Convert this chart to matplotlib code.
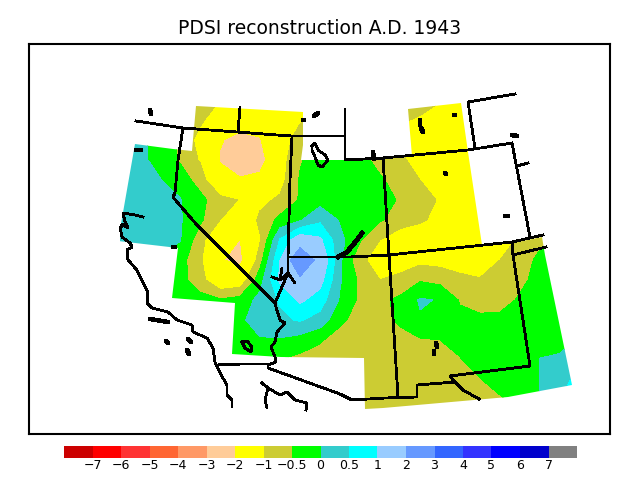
#import modules
import numpy as np
import matplotlib
matplotlib.use('Agg')
import matplotlib.pyplot as plt
from matplotlib.patches import Polygon

title = 'PDSI reconstruction A.D. 1943'

#contour levels and colors
levels = [-7, -6, -5, -4, -3, -2, -1, -0.5, 0, 0.5, 1, 2, 3, 4, 5, 6, 7]
level_labels = ['\u22127', '\u22126', '\u22125', '\u22124', '\u22123', '\u22122', '\u22121', '\u22120.5',
                '0', '0.5', '1', '2', '3', '4', '5', '6', '7']
colors = ['#cc0000', '#ff0000', '#ff3333', '#ff6633', '#ff9966', '#ffcc99', '#ffff00', '#cccc33', '#00ff00',
          '#33cccc', '#00ffff', '#99ccff', '#6699ff', '#3366ff', '#3333ff', '#0000ff', '#0000cc', '#808080']

#PDSI, map units are picture pixels
grid_x = [120, 140, 160, 180, 200, 220, 240, 260, 280, 300, 320, 340, 360, 380, 400, 420, 440, 460, 480, 500, 520, 540, 560, 580]
grid_y = [100, 120, 140, 160, 180, 200, 220, 240, 260, 280, 300, 320, 340, 360, 380, 400, 420]
pdsi_100 = [0.3, 0.2, -0.2, -0.6, -0.85, -1.0, -1.5, -1.6, -1.6, -1.3, -1.2, -1.2, -1.2, -1.1, -0.7, -0.65, -0.95, -1.4, -1.5, -1.5, -1.5, -1.5, -1.5, -1.5]
pdsi_120 = [0.3, 0.2, -0.2, -0.65, -0.9, -1.35, -1.7, -1.7, -1.5, -1.05, -0.8, -0.9, -1.0, -1.0, -0.9, -1.1, -1.4, -1.5, -1.5, -1.5, -1.5, -1.5, -1.5, -1.5]
pdsi_140 = [0.3, 0.1, -0.2, -0.6, -1.2, -1.95, -2.2, -2.05, -1.25, -0.8, -0.4, -0.3, -0.5, -0.9, -1.2, -1.5, -1.5, -1.5, -1.5, -1.5, -1.5, -1.5, -1.5, -1.5]
pdsi_160 = [0.3, 0.1, -0.15, -0.55, -1.05, -2.05, -2.6, -2.3, -1.25, -0.55, -0.25, -0.2, -0.3, -0.7, -0.85, -1.3, -1.5, -1.5, -1.5, -1.5, -1.5, -1.5, -1.5, -1.5]
pdsi_180 = [0.3, 0.2, 0.02, -0.25, -0.7, -1.7, -1.9, -1.8, -1.2, -0.45, -0.2, -0.15, -0.2, -0.42, -0.75, -1.0, -1.4, -1.5, -1.5, -1.5, -1.5, -1.5, -1.5, -1.5]
pdsi_200 = [0.3, 0.3, 0.2, 0.03, -0.35, -0.8, -1.03, -1.12, -0.92, -0.45, -0.2, -0.15, -0.2, -0.3, -0.55, -0.8, -1.05, -1.5, -1.5, -1.5, -1.5, -1.5, -1.5, -1.5]
pdsi_220 = [0.3, 0.3, 0.2, 0.05, -0.4, -1.0, -1.5, -0.9, -0.35, -0.05, 0.4, -0.05, -0.25, -0.45, -0.7, -0.9, -1.2, -1.5, -1.5, -1.5, -1.5, -1.5, -1.5, -1.5]
pdsi_240 = [0.3, 0.3, 0.2, 0.03, -0.8, -1.6, -2.02, -1.05, 0.55, 1.4, 1.1, 0.15, -0.45, -1.0, -1.4, -1.5, -1.5, -1.5, -1.5, -1.3, -0.9, -0.6, -0.4, -0.3]
pdsi_260 = [0.2, 0.1, -0.1, -0.3, -0.9, -1.95, -2.2, -0.7, 1.0, 2.95, 1.6, 0.1, -0.9, -1.2, -1.3, -1.15, -1.2, -1.3, -1.4, -1.0, -0.7, -0.4, -0.3, -0.3]
pdsi_280 = [0.1, -0.1, -0.2, -0.3, -0.8, -1.5, -1.4, -0.2, 1.1, 1.8, 1.2, 0.05, -0.6, -1.0, -0.85, -0.55, -0.65, -0.85, -0.95, -0.75, -0.6, -0.35, -0.3, -0.3]
pdsi_300 = [0.0, -0.1, -0.2, -0.25, -0.3, -0.45, -0.3, 0.15, 0.55, 1.1, 0.75, -0.05, -0.6, -0.6, -0.4, 0.05, -0.03, -0.55, -0.7, -0.65, -0.45, -0.25, -0.2, -0.2]
pdsi_320 = [0.0, -0.1, -0.2, -0.25, -0.3, -0.2, -0.1, 0.25, 0.4, 0.55, 0.3, -0.4, -0.7, -0.6, -0.45, -0.05, -0.25, -0.35, -0.4, -0.4, -0.3, -0.2, -0.15, -0.1]
pdsi_340 = [-0.1, -0.1, -0.2, -0.2, -0.2, -0.2, -0.15, -0.05, -0.05, -0.2, -0.45, -0.7, -0.75, -0.75, -0.6, -0.55, -0.5, -0.4, -0.35, -0.3, -0.25, -0.2, -0.2, 0.05]
pdsi_360 = [-0.2, -0.2, -0.2, -0.25, -0.25, -0.3, -0.3, -0.35, -0.5, -0.65, -0.7, -0.75, -0.8, -0.8, -0.75, -0.7, -0.65, -0.52, -0.35, -0.3, -0.4, 0.02, 0.1, 0.3]
pdsi_380 = [-0.3, -0.3, -0.3, -0.3, -0.3, -0.4, -0.4, -0.5, -0.6, -0.7, -0.8, -0.8, -0.8, -0.8, -0.8, -0.8, -0.75, -0.65, -0.52, -0.35, -0.4, 0.02, 0.4, 0.6]
pdsi_400 = [-0.3, -0.3, -0.3, -0.3, -0.3, -0.4, -0.4, -0.5, -0.6, -0.7, -0.8, -0.8, -0.8, -0.8, -0.8, -0.8, -0.8, -0.75, -0.7, -0.55, -0.4, 0.02, 0.5, 0.7]
pdsi_420 = [-0.3, -0.3, -0.3, -0.3, -0.3, -0.4, -0.4, -0.5, -0.6, -0.7, -0.8, -0.8, -0.8, -0.8, -0.8, -0.8, -0.8, -0.8, -0.75, -0.6, -0.4, 0.02, 0.5, 0.7]

#outline of the area with reconstruction data
domain_x = [196, 303, 303, 301, 372, 412, 408, 461, 468, 482, 512, 542, 545, 572, 508, 383, 365, 364, 281, 232, 235, 172, 178, 118, 135, 173, 192]
domain_y = [106, 112, 145, 160, 160, 156, 109, 103, 152, 245, 243, 237, 255, 385, 397, 408, 409, 358, 357, 354, 303, 298, 248, 241, 144, 149, 151]

#map lines
border_north_x = [136, 183, 237, 277, 292, 345]
border_north_y = [121, 128, 132, 135, 136, 136]
border_mt_x = [240, 238]
border_mt_y = [107, 132]
border_nd_x = [345, 345, 383, 468, 512]
border_nd_y = [109, 160, 158, 150, 143]
border_wa_x = [183, 178, 175, 173, 177, 197, 275]
border_wa_y = [128, 160, 193, 197, 202, 225, 303]
border_id_x = [292, 290, 288, 288]
border_id_y = [136, 180, 257, 273]
border_ut_x = [288, 350, 389, 512, 543]
border_ut_y = [257, 257, 255, 242, 235]
border_az_x = [383, 389, 398]
border_az_y = [158, 255, 397]
border_tx_x = [512, 513, 530, 450, 455, 417, 417, 385, 352, 340, 268, 268, 242, 216]
border_tx_y = [242, 255, 366, 376, 382, 385, 397, 398, 400, 394, 368, 364, 364, 365]
border_sd_x = [515, 468, 475]
border_sd_y = [94, 102, 148]
border_ne_x = [512, 530]
border_ne_y = [143, 237]
stub_x = [517, 528]
stub_y = [166, 163]
stub2_x = [513, 546]
stub2_y = [255, 247]
river_x = [272, 280, 282, 280, 288, 295, 288, 275, 276, 280, 285, 277, 275, 271, 275, 276, 268]
river_y = [277, 280, 268, 280, 273, 283, 273, 303, 307, 320, 323, 332, 342, 347, 357, 362, 365]
rio_x = [453, 463, 479]
rio_y = [380, 390, 399]
coast_x = [143, 135, 123, 125, 128, 122, 121, 120, 122, 130, 132, 127, 128, 137, 143, 148, 147, 152, 168, 177, 192, 193, 207, 213, 215, 220, 227, 227, 232, 232]
coast_y = [217, 215, 213, 222, 228, 224, 228, 227, 237, 243, 247, 250, 260, 270, 283, 292, 303, 308, 312, 320, 325, 332, 338, 348, 362, 373, 385, 395, 400, 407]
baja_x = [262, 268, 265, 267, 265, 268, 280, 287, 295, 307, 306]
baja_y = [383, 388, 400, 408, 400, 388, 395, 392, 400, 403, 410]
flathead_x = [312, 315, 318, 325, 328, 322, 318, 315, 312, 312]
flathead_y = [146, 143, 150, 155, 160, 167, 165, 157, 150, 146]
salton_x = [242, 247, 252, 251, 245, 242]
salton_y = [342, 341, 347, 352, 348, 342]
salt_lake_x = [338, 347, 352, 357, 362]
salt_lake_y = [257, 252, 246, 240, 233]
#islands and small lakes
speck_x = [[150, 151], [314, 318], [303, 304], [136, 141], [173, 175], [373, 374], [420, 420], [421, 423], [454, 455], [445, 446], [505, 508], [512, 517], [150, 168], [166, 168], [188, 191], [187, 189], [436, 437], [434, 434]]
speck_y = [[110, 114], [116, 113], [120, 120], [150, 150], [247, 247], [152, 159], [120, 125], [128, 132], [115, 115], [173, 174], [216, 216], [135, 136], [319, 322], [341, 343], [339, 342], [350, 354], [343, 347], [351, 354]]


def drawField(ax):
  #filled contours cut to the data area
  grid_z = np.array([pdsi_100, pdsi_120, pdsi_140, pdsi_160, pdsi_180, pdsi_200, pdsi_220, pdsi_240, pdsi_260,
                     pdsi_280, pdsi_300, pdsi_320, pdsi_340, pdsi_360, pdsi_380, pdsi_400, pdsi_420])
  field = ax.contourf(grid_x, grid_y, grid_z, levels=levels, colors=colors, extend='both', antialiased=False)
  domain = Polygon(np.column_stack([domain_x, domain_y]), transform=ax.transData)
  field.set_clip_path(domain)
  return field


def drawLines(ax):
  lines = [(border_north_x, border_north_y), (border_mt_x, border_mt_y), (border_nd_x, border_nd_y),
           (border_wa_x, border_wa_y), (border_id_x, border_id_y), (border_ut_x, border_ut_y),
           (border_az_x, border_az_y), (border_tx_x, border_tx_y), (border_sd_x, border_sd_y),
           (border_ne_x, border_ne_y), (stub_x, stub_y), (stub2_x, stub2_y), (river_x, river_y),
           (rio_x, rio_y), (coast_x, coast_y), (baja_x, baja_y), (flathead_x, flathead_y), (salton_x, salton_y)]
  for x, y in lines:
    ax.plot(x, y, color='black', lw=1.3, antialiased=False, solid_joinstyle='round')
  ax.plot(salt_lake_x, salt_lake_y, color='black', lw=2.6, antialiased=False)
  for x, y in zip(speck_x, speck_y):
    ax.plot(x, y, color='black', lw=2.6, antialiased=False, solid_capstyle='round')


def main():
  fig = plt.figure(figsize=(6.4, 4.8), dpi=100)
  ax = fig.add_axes([29/640, 46/480, 581/640, 390/480])
  field = drawField(ax)
  drawLines(ax)
  ax.set_xlim(29, 610)
  ax.set_ylim(434, 44)
  ax.set_xticks([])
  ax.set_yticks([])
  for spine in ax.spines.values():
    spine.set_linewidth(1.5)

  fig.text(0.5, 1 - 28/480, title, ha='center', va='center', fontsize=13.5)

  #color key
  cax = fig.add_axes([64/640, 22/480, 513/640, 12/480])
  cbar = fig.colorbar(field, cax=cax, orientation='horizontal', ticks=levels, spacing='uniform',
                      extendrect=True, extendfrac=1/16, drawedges=False)
  cbar.set_ticklabels(level_labels)
  cbar.outline.set_visible(False)
  cax.tick_params(length=0, pad=1, labelsize=9)

  fig.savefig('out.png', dpi=100)


main()
